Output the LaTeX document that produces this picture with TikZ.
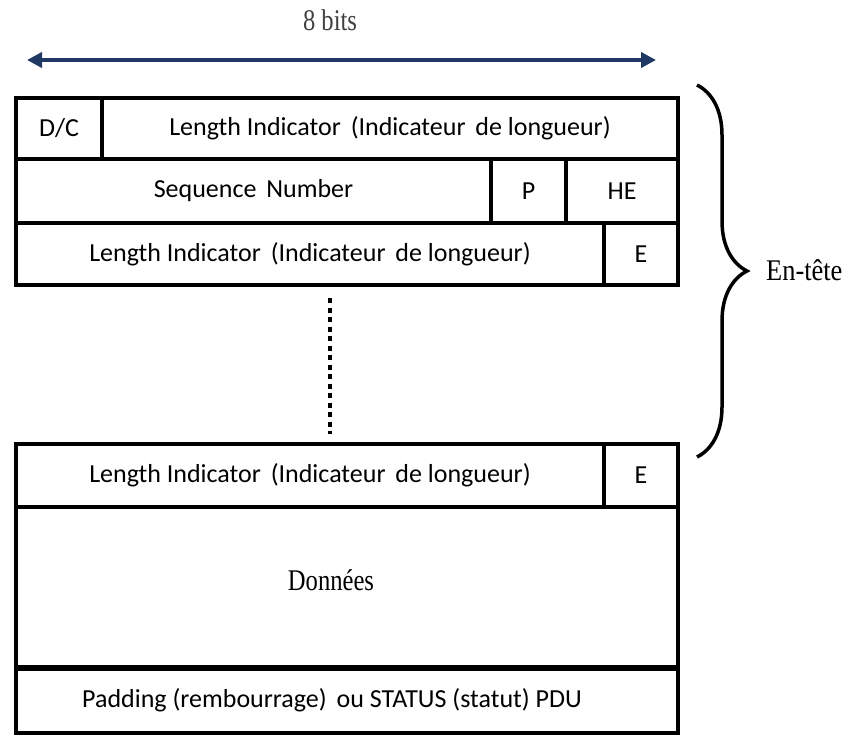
\documentclass[tikz,border=0pt]{standalone}
\usepackage{fontspec}
\setmainfont{Carlito}
\newfontfamily\tnr{Liberation Serif}
\usetikzlibrary{arrows.meta,decorations.pathreplacing}
\definecolor{navy}{RGB}{31,56,100}
\newcommand{\tnrtext}[1]{\scalebox{0.82}[1]{#1}}

\begin{document}
\begin{tikzpicture}[x=1pt,y=-1pt]
\tikzstyle{every node}+=[inner sep=0pt]
\tikzstyle{cell}=[draw, rectangle, line width=4pt, font=\fontsize{26}{30}\selectfont]
\tikzstyle{serif}=[font=\tnr\fontsize{30}{34}\selectfont]
\path[use as bounding box, fill=white] (0,0) rectangle (845,737);
\coordinate (wl) at (27,60);
\coordinate (wr) at (656,60);
\draw [navy, line width=4pt, {Triangle[length=15pt,width=15pt]}-{Triangle[length=15pt,width=15pt]}] (wl) -- (wr);
\node [serif, black!75] (bits) at (330,20) {\tnrtext{8 bits}};
\node [cell, minimum width=86, minimum height=61.5] (dc) at (59,128.25) {D/C};
\node [cell, minimum width=576, minimum height=61.5] (li1) at (390,128.25) {Length Indicator\hspace{4pt} (Indicateur\hspace{4pt} de longueur)};
\node [cell, minimum width=475, minimum height=64] (sn) at (253.5,191) {Sequence\hspace{4pt} Number};
\node [cell, minimum width=75, minimum height=64] (p) at (528.5,191) {P};
\node [cell, minimum width=112, minimum height=64] (he) at (622,191) {HE};
\node [cell, minimum width=588, minimum height=61.5] (li2) at (310,253.75) {Length Indicator\hspace{4pt} (Indicateur\hspace{4pt} de longueur)};
\node [cell, minimum width=74, minimum height=61.5] (e1) at (641,253.75) {E};
\coordinate (dt) at (330,298);
\coordinate (db) at (330,434);
\draw [line width=4pt, dash pattern=on 5pt off 4.5pt] (dt) -- (db);
\node [cell, minimum width=588, minimum height=63] (li3) at (310,475.5) {Length Indicator\hspace{4pt} (Indicateur\hspace{4pt} de longueur)};
\node [cell, minimum width=74, minimum height=63] (e2) at (641,475.5) {E};
\node [cell, minimum width=662, minimum height=160] (don) at (347,587) {};
\node [serif] (dontext) at (331,580) {\tnrtext{Données}};
\node [cell, minimum width=662, minimum height=64] (pad) at (347,701) {};
\node [font=\fontsize{26}{30}\selectfont] (padtext) at (332,700) {Padding (rembourrage)\hspace{4pt} ou STATUS (statut) PDU};
\coordinate (bt) at (697,85);
\coordinate (bb) at (697,457);
\draw [decorate, decoration={brace, amplitude=50pt}, line width=3.5pt] (bt) -- (bb);
\node [serif, anchor=west] (entete) at (766,270) {\scalebox{0.88}[1]{En-tête}};
\end{tikzpicture}
\end{document}
